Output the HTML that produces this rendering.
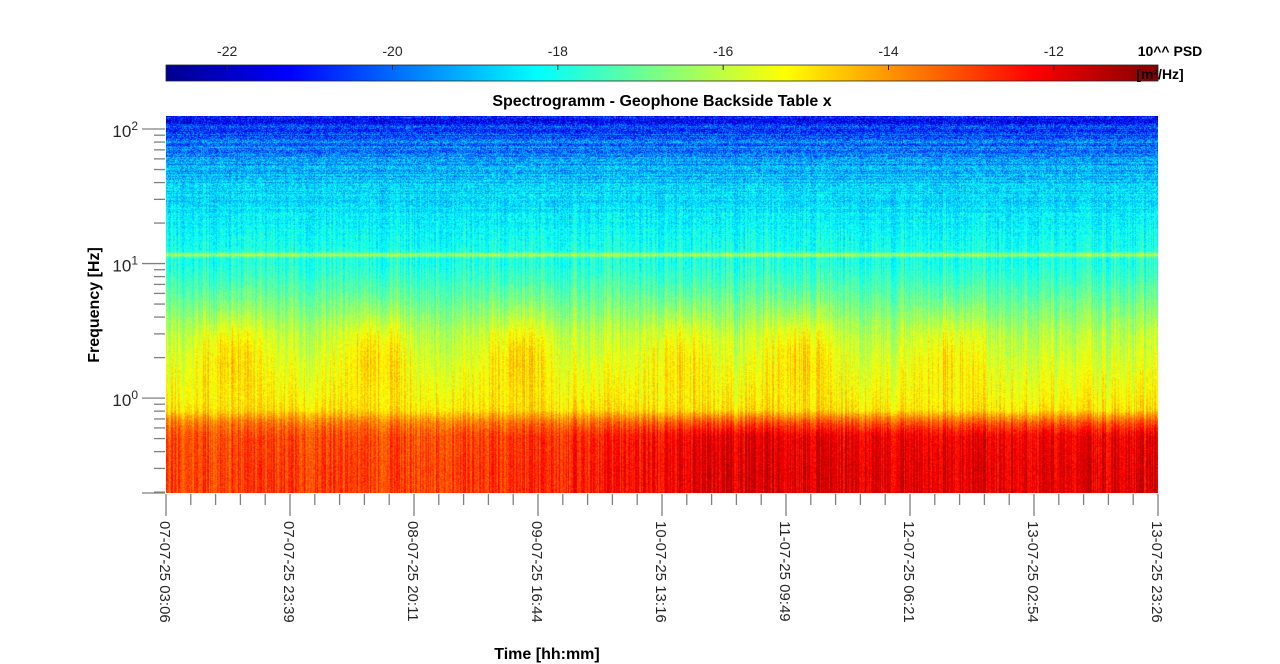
<!DOCTYPE html>
<html><head><meta charset="utf-8">
<style>
body{margin:0;background:#fff;width:1280px;height:664px;overflow:hidden;font-family:"Liberation Sans",sans-serif;}
#root{position:relative;width:1280px;height:664px;}
</style></head>
<body>
<div id="root">
<svg id="svg" width="1280" height="664" style="position:absolute;left:0;top:0">
  <defs><linearGradient id="jet" x1="0" x2="1" y1="0" y2="0">
    <stop offset="0" stop-color="#00008f"/><stop offset="0.125" stop-color="#0000ff"/>
    <stop offset="0.375" stop-color="#00ffff"/><stop offset="0.625" stop-color="#ffff00"/>
    <stop offset="0.875" stop-color="#ff0000"/><stop offset="1" stop-color="#800000"/>
  </linearGradient></defs>
  <rect x="166" y="65" width="992" height="16" fill="url(#jet)" stroke="#262626" stroke-width="0.8"/>
  <g id="cbticks"></g>
  <text x="1170" y="56" font-size="14" font-weight="bold" text-anchor="middle" fill="#000">10^^ PSD</text>
  <text x="1160" y="79" font-size="14" font-weight="bold" text-anchor="middle" fill="#000">[m²/Hz]</text>
  <text x="662" y="106" font-size="16" font-weight="bold" text-anchor="middle" fill="#000">Spectrogramm - Geophone Backside Table x</text>
  <foreignObject x="166" y="116" width="992" height="377"><canvas id="cv" width="992" height="377" xmlns="http://www.w3.org/1999/xhtml"></canvas></foreignObject>
  <g id="yaxis"></g>
  <g id="xaxis"></g>
  <text transform="translate(99,305) rotate(-90)" font-size="16" font-weight="bold" text-anchor="middle" fill="#000">Frequency [Hz]</text>
  <text x="547" y="659" font-size="16" font-weight="bold" text-anchor="middle" fill="#000">Time [hh:mm]</text>
</svg>
</div>
<script>
const cbTicks=[-22,-20,-18,-16,-14,-12];
const cbMin=-22.74, cbMax=-10.74;
const xTickLabels=["07-07-25 03:06","07-07-25 23:39","08-07-25 20:11","09-07-25 16:44","10-07-25 13:16","11-07-25 09:49","12-07-25 06:21","13-07-25 02:54","13-07-25 23:26"];
const totalHours=164.33;
const fMin=0.197, fMax=125;
const profileFreq=[0.2,0.3,0.5,0.65,0.8,1.0,1.5,3,5,8,10,11.0,11.6,12.3,13,20,35,50,80,100,125];
const profileVal=[-12.9,-12.9,-13.2,-14.0,-14.9,-15.2,-15.5,-16.1,-16.9,-17.6,-17.9,-17.9,-16.0,-17.9,-18.0,-18.3,-18.8,-19.2,-20.0,-20.5,-21.0];
const lowTimes=[0,40,60,75,90,164];
const lowVals=[-13.0,-13.0,-12.8,-12.5,-11.9,-12.0];
const activityHours=[10.6,35.0,58.6,85.1,105.0,129.8];
const activityAmp=[1.0,1.0,1.0,0.8,1.0,0.8];

const NS="http://www.w3.org/2000/svg";
const X0=166,X1=1158,Y0=116,Y1=493;
function xs(t){return X0+(t/totalHours)*(X1-X0);}
function ys(f){return Y1-(Math.log10(f)-Math.log10(fMin))/(Math.log10(fMax)-Math.log10(fMin))*(Y1-Y0);}
function cbx(v){return X0+(v-cbMin)/(cbMax-cbMin)*(X1-X0);}
function mk(tag,attrs,parent){const e=document.createElementNS(NS,tag);for(const k in attrs)e.setAttribute(k,attrs[k]);parent.appendChild(e);return e;}

const cbg=document.getElementById('cbticks');
cbTicks.forEach(v=>{
  const l=mk('line',{x1:cbx(v),x2:cbx(v),y1:65,y2:70,stroke:'#262626'},cbg);
  
  
  const t=mk('text',{x:cbx(v),y:56,'font-size':14,'text-anchor':'middle',fill:'#262626'},cbg);
  t.textContent=String(v);
  
  
});

const yg=document.getElementById('yaxis');
for(let d=-1;d<=2;d++){
  for(let m=1;m<=9;m++){
    const f=m*Math.pow(10,d);
    if(f<fMin-1e-9||f>fMax)continue;
    const y=ys(f);
    const l=mk('line',{x1:m===1?142:154,x2:165,y1:y,y2:y,stroke:'#808080','stroke-width':1.3},yg);
    
    
    if(m===1){
      const t=mk('text',{x:138,y:y+8,'font-size':17,'text-anchor':'end',fill:'#262626'},yg);
      t.innerHTML='10<tspan dy="-7" font-size="12">'+d+'</tspan>';
      
      
    }
  }
}
const yb=mk('line',{x1:142,x2:165,y1:Y1,y2:Y1,stroke:'#808080','stroke-width':1.3},yg);



const xg=document.getElementById('xaxis');
const step=totalHours/(xTickLabels.length-1);
for(let i=0;i<xTickLabels.length;i++){
  const x=xs(i*step);
  const l=mk('line',{x1:x,x2:x,y1:494,y2:516,stroke:'#808080','stroke-width':1.3},xg);
  
  
  if(i<xTickLabels.length-1){for(let k=1;k<5;k++){const xm=xs(i*step+k*step/5);
    const m=mk('line',{x1:xm,x2:xm,y1:494,y2:505,stroke:'#808080','stroke-width':1.3},xg);
    
    }}
  const t=mk('text',{transform:`translate(${x-6},521) rotate(90)`,'font-size':15,fill:'#262626'},xg);
  t.textContent=xTickLabels[i];
  
  
}

function interp(xa,ya,x){if(x<=xa[0])return ya[0];for(let i=1;i<xa.length;i++){if(x<=xa[i]){const r=(x-xa[i-1])/(xa[i]-xa[i-1]);return ya[i-1]+r*(ya[i]-ya[i-1]);}}return ya[ya.length-1];}
function hash(a,b){let h=(a*374761393+b*668265263)|0;h=(h^(h>>>13))*1274126177|0;return ((h^(h>>>16))>>>0)/4294967296;}
function jet(v){const x=Math.max(0,Math.min(1,(v-cbMin)/(cbMax-cbMin)));
  const r=Math.max(0,Math.min(1,1.5-Math.abs(4*x-3))),g=Math.max(0,Math.min(1,1.5-Math.abs(4*x-2))),b=Math.max(0,Math.min(1,1.5-Math.abs(4*x-1)));
  return [r*255,g*255,b*255];}
const cv=document.getElementById('cv'),ctx=cv.getContext('2d');
const W=992,H=377,img=ctx.createImageData(W,H);
const lpF=profileFreq.map(Math.log10);
const colN=[],rowN=[];
for(let x=0;x<W;x++)colN.push(hash(x,7)-0.5);
for(let y=0;y<H;y++)rowN.push(hash(3,y)-0.5);
for(let y=0;y<H;y++){
  const lf=Math.log10(fMax)-(y/(H-1))*(Math.log10(fMax)-Math.log10(fMin));
  const base=interp(lpF,profileVal,lf);
  const lowW=Math.max(0,Math.min(1,(Math.log10(0.65)-lf)/0.2+0.5));
  const midW=Math.exp(-Math.pow((lf-Math.log10(2.2))/0.3,2));
  const hi=Math.max(0,Math.min(1,(lf-1)/1));
  for(let x=0;x<W;x++){
    const t=x/(W-1)*totalHours;
    let v=base;
    const low=interp(lowTimes,lowVals,t);
    v=v*(1-lowW)+(low+(base+12.9)*0.4)*lowW;
    let act=0;for(let k=0;k<activityHours.length;k++)act+=activityAmp[k]*Math.exp(-Math.pow((t-activityHours[k])/5.5,2));
    v+=midW*act*1.0;
    const n=hash(x,y)-0.5;
    v+=n*(0.8+hi*1.6)+colN[x]*(1-hi)*1.2+rowN[y]*hi*1.2;
    const c=jet(v),i=(y*W+x)*4;
    img.data[i]=c[0];img.data[i+1]=c[1];img.data[i+2]=c[2];img.data[i+3]=255;
  }
}
ctx.putImageData(img,0,0);
</script>
</body></html>
